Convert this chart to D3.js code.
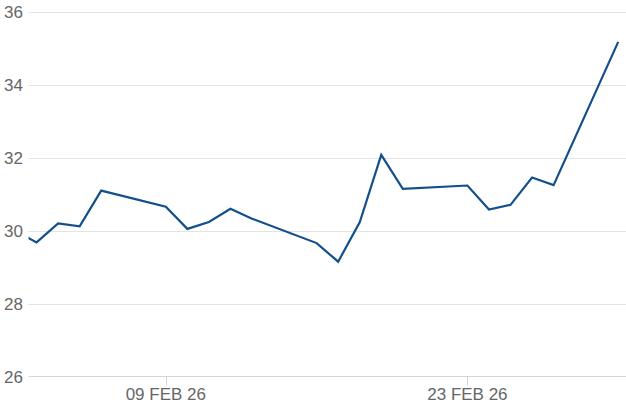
<!DOCTYPE html>
<html>
<head>
<meta charset="utf-8">
<script src="https://cdn.jsdelivr.net/npm/d3@7"></script>
<style>
  body { margin: 0; background: #fff; }
  svg { display: block; font-family: "Liberation Sans", Arial, sans-serif; }
  .grid line { stroke: #e3e3e3; stroke-width: 1; }
  .ylabel, .xlabel { fill: #666; font-size: 17px; }
</style>
</head>
<body>
<svg id="chart" width="626" height="417"></svg>
<script>
// Trading days and closing values
const dates = [
    '2026-02-02', '2026-02-03', '2026-02-04', '2026-02-05', '2026-02-06',
    '2026-02-09', '2026-02-10', '2026-02-11', '2026-02-12', '2026-02-13',
    '2026-02-16', '2026-02-17', '2026-02-18', '2026-02-19', '2026-02-20',
    '2026-02-23', '2026-02-24', '2026-02-25', '2026-02-26', '2026-02-27',
    '2026-03-02'
];
const values = [
    30.0, 29.68, 30.2, 30.12, 31.1,
    30.66, 30.05, 30.24, 30.6, 30.33,
    29.66, 29.15, 30.23, 32.08, 31.15,
    31.24, 30.58, 30.71, 31.46, 31.25,
    35.18
];
const yTicks = [26, 28, 30, 32, 34, 36];
const xTicks = ['2026-02-09', '2026-02-23'];

const parse = d3.utcParse('%Y-%m-%d');
const data = dates.map((d, i) => ({ date: parse(d), value: values[i] }));

const width = 626, height = 417;
const plotLeft = 28.5, plotRight = 626, plotTop = 12, plotBottom = 376.5;

const svg = d3.select('#chart');

// domain edges fall between trading days (left edge clips the first segment)
const x = d3.scaleUtc()
    .domain([new Date(Date.UTC(2026, 1, 2, 15, 0)), new Date(Date.UTC(2026, 2, 2, 8, 40))])
    .range([plotLeft, plotRight]);

const y = d3.scaleLinear()
    .domain([26, 36])
    .range([plotBottom, plotTop]);

// Gridlines
svg.append('g')
    .attr('class', 'grid')
    .selectAll('line')
    .data(yTicks.filter(t => t !== 26))
    .join('line')
    .attr('x1', plotLeft)
    .attr('x2', plotRight)
    .attr('y1', d => Math.round(y(d)) + 0.5)
    .attr('y2', d => Math.round(y(d)) + 0.5);

// Bottom axis line and ticks
svg.append('line')
    .attr('x1', plotLeft).attr('x2', plotRight)
    .attr('y1', plotBottom).attr('y2', plotBottom)
    .attr('stroke', '#cfd6df');

svg.append('g')
    .selectAll('line')
    .data(xTicks)
    .join('line')
    .attr('x1', d => Math.round(x(parse(d))) + 0.5)
    .attr('x2', d => Math.round(x(parse(d))) + 0.5)
    .attr('y1', plotBottom)
    .attr('y2', plotBottom + 9)
    .attr('stroke', '#cfd6df');

// Y labels
svg.append('g')
    .selectAll('text')
    .data(yTicks)
    .join('text')
    .attr('class', 'ylabel')
    .attr('x', 4)
    .attr('y', d => y(d) + 6)
    .text(d => d);

// X labels
const fmt = d3.utcFormat('%d %b %y');
svg.append('g')
    .selectAll('text')
    .data(xTicks)
    .join('text')
    .attr('class', 'xlabel')
    .attr('x', d => x(parse(d)))
    .attr('y', 400)
    .attr('text-anchor', 'middle')
    .text(d => fmt(parse(d)).toUpperCase());

// Clip and line
svg.append('defs').append('clipPath')
    .attr('id', 'plot')
    .append('rect')
    .attr('x', plotLeft).attr('y', 0)
    .attr('width', plotRight - plotLeft).attr('height', height);

const line = d3.line()
    .x(d => x(d.date))
    .y(d => y(d.value));

svg.append('path')
    .datum(data)
    .attr('clip-path', 'url(#plot)')
    .attr('fill', 'none')
    .attr('stroke', '#134f8b')
    .attr('stroke-width', 2.2)
    .attr('stroke-linejoin', 'miter')
    .attr('d', line);
</script>
</body>
</html>
